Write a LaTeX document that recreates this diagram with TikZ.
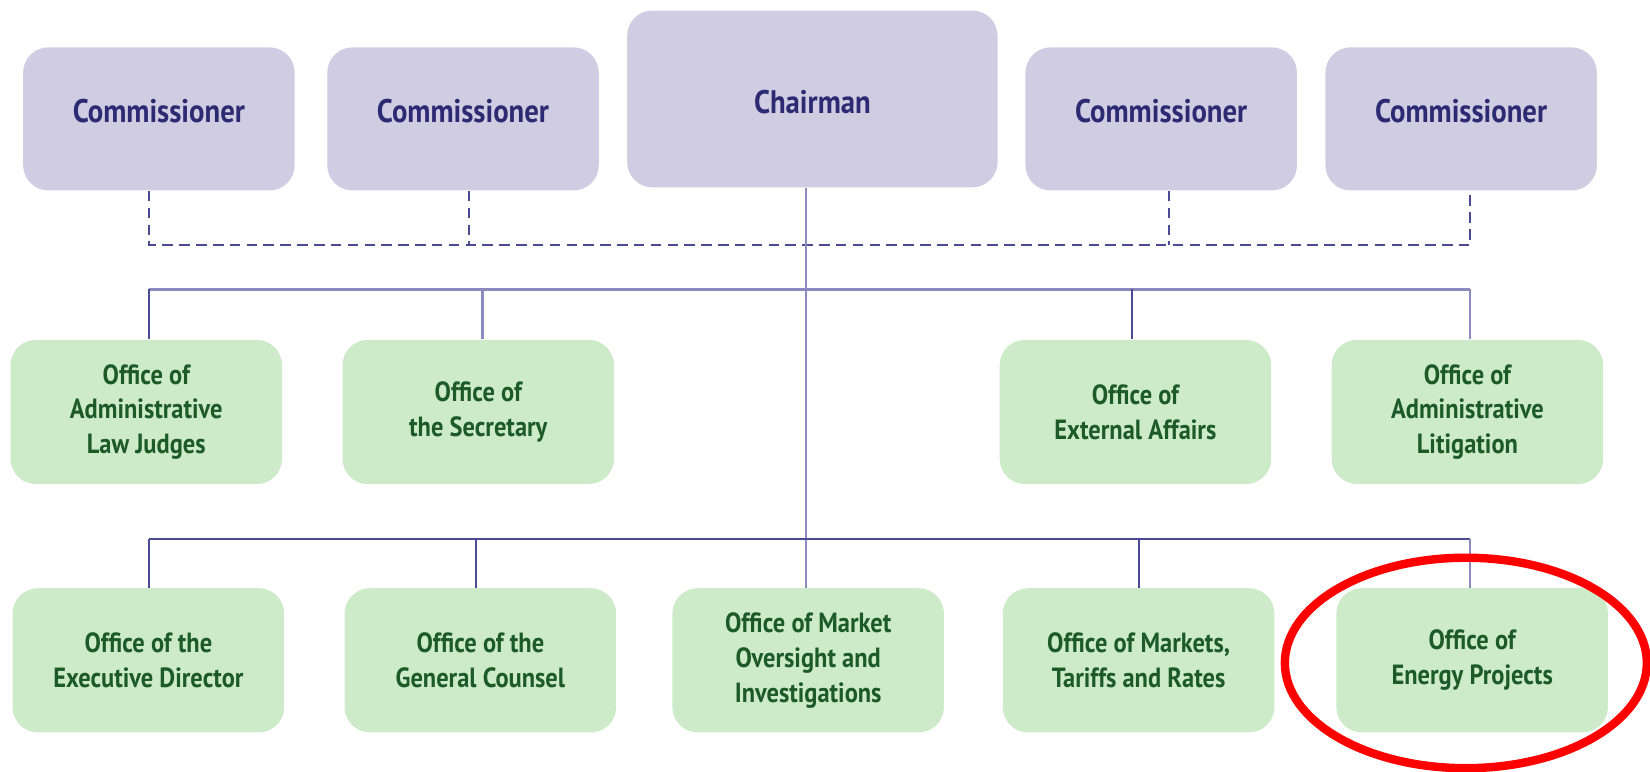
\documentclass[tikz,border=0pt]{standalone}
\usepackage{fontspec}
\setmainfont{PT Sans}[FakeStretch=0.88]
\definecolor{purplefill}{HTML}{D0CDE3}
\definecolor{navytext}{HTML}{2C2A72}
\definecolor{greenfill}{HTML}{CDEBC8}
\definecolor{greentext}{HTML}{1C5A28}
\definecolor{darkline}{HTML}{4B4A94}
\definecolor{lightline}{HTML}{8C8ABE}
\tikzset{
  topbox/.style={rectangle, rounded corners=12pt, fill=purplefill, text=navytext,
    font=\bfseries\fontsize{15.5}{19}\selectfont, align=center,
    minimum width=129pt, minimum height=68pt, inner sep=2pt,
    text height=11pt, text depth=8pt},
  chairbox/.style={topbox, minimum width=176pt, minimum height=84pt,
    text height=17pt, text depth=3pt},
  officebox/.style={rectangle, rounded corners=12pt, fill=greenfill, text=greentext,
    font=\bfseries\fontsize{13.2}{16.5}\selectfont, align=center,
    minimum width=129pt, minimum height=68.5pt, inner sep=2pt},
  solidlink/.style={draw=darkline, line width=1pt},
  lightlink/.style={draw=lightline, line width=1.1pt},
  dashlink/.style={draw=darkline, line width=1pt, dash pattern=on 5pt off 3pt},
  ring/.style={draw=red, line width=4pt}
}
\begin{document}
\begin{tikzpicture}[x=0.5pt, y=-0.5pt]
\useasboundingbox (0,0) rectangle (1568,733);
% top row
\node[topbox] (c1) at (151,113) {Commissioner};
\node[topbox] (c2) at (440,113) {Commissioner};
\node[chairbox] (ch) at (772,94) {Chairman};
\node[topbox] (c3) at (1103.5,113) {Commissioner};
\node[topbox] (c4) at (1388.5,113) {Commissioner};
% middle row
\node[officebox] (alj) at (139,391.5) {Office of\\Administrative\\Law Judges};
\node[officebox] (sec) at (454.5,391.5) {Office of\\the Secretary};
\node[officebox] (ext) at (1079,391.5) {Office of\\External Affairs};
\node[officebox] (lit) at (1394.5,391.5) {Office of\\Administrative\\Litigation};
% bottom row
\node[officebox] (exd) at (141,627.5) {Office of the\\Executive Director};
\node[officebox] (gc) at (456.5,627.5) {Office of the\\General Counsel};
\node[officebox] (mo) at (768,627.5) {Office of Market\\Oversight and\\Investigations};
\node[officebox] (mtr) at (1082,627.5) {Office of Markets,\\Tariffs and Rates};
\node[officebox] (ep) at (1399,627.5) {Office of\\Energy Projects};
% bus coordinates
\coordinate (dashbus) at (0,233);
\coordinate (bus1) at (0,275);
\coordinate (bus2) at (0,512);
\coordinate (c1d) at ([xshift=-4.5pt]c1.south);
\coordinate (c2d) at ([xshift=3pt]c2.south);
\coordinate (c3d) at ([xshift=3.75pt]c3.south);
\coordinate (c4d) at ([xshift=4.25pt]c4.south);
\coordinate (chd) at ([xshift=-3pt]ch.south);
% dashed commissioner links
\draw[dashlink] (c1d) -- (c1d |- dashbus) -- (c4d |- dashbus) -- (c4d);
\draw[dashlink] (c2d) -- (c2d |- dashbus);
\draw[dashlink] (c3d) -- (c3d |- dashbus);
% chairman trunk
\draw[lightlink] (chd) -- (chd |- mo.north);
% first bus
\draw[lightlink] (c1d |- bus1) -- (c4d |- bus1);
\draw[solidlink] (c1d |- bus1) -- (c1d |- alj.north);
\draw[lightlink] ([xshift=2pt]sec.north |- bus1) -- ([xshift=2pt]sec.north);
\draw[solidlink] ([xshift=-1.5pt]ext.north |- bus1) -- ([xshift=-1.5pt]ext.north);
\draw[lightlink] (c4d |- bus1) -- (c4d |- lit.north);
% second bus
\draw[solidlink] (c1d |- bus2) -- (c4d |- bus2);
\draw[solidlink] (c1d |- bus2) -- (c1d |- exd.north);
\draw[solidlink] ([xshift=-2pt]gc.north |- bus2) -- ([xshift=-2pt]gc.north);
\draw[solidlink] (mtr.north |- bus2) -- (mtr.north);
\draw[lightlink] (c4d |- bus2) -- (c4d |- ep.north);
% highlight ring
\draw[ring] (1393,630) ellipse [x radius=172, y radius=100];
\end{tikzpicture}
\end{document}
